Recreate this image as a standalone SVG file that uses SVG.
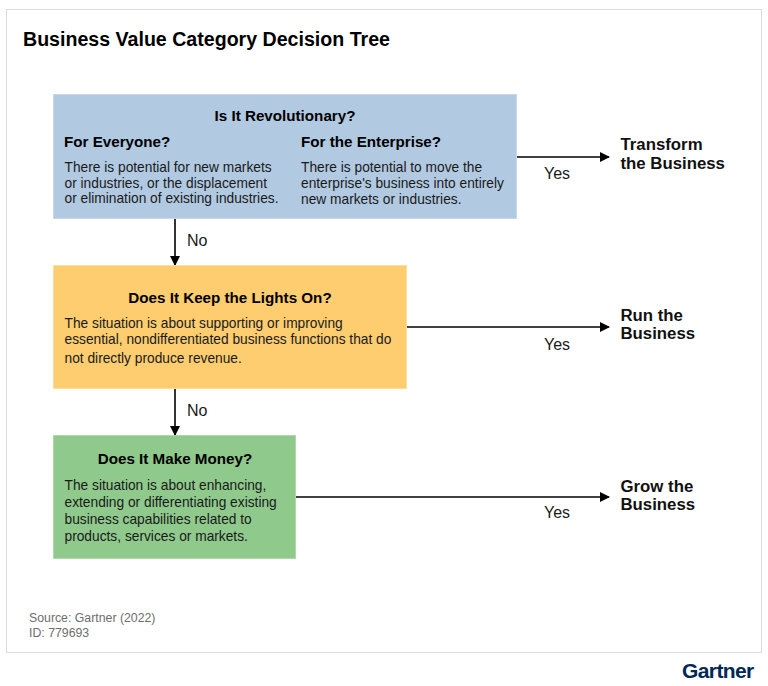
<svg xmlns="http://www.w3.org/2000/svg" width="768" height="686" viewBox="0 0 768 686">
<defs>
<marker id="arrow" markerUnits="userSpaceOnUse" markerWidth="10" markerHeight="10" refX="9" refY="5" orient="auto"><path d="M0 0L10 5L0 10Z" fill="#000"/></marker>
</defs>
<style>
text{font-family:"Liberation Sans",Arial,sans-serif;fill:#1a1a1a}
.b{font-weight:700;font-size:15.2px;fill:#000}
.t{font-size:13.75px}
.r{font-weight:700;font-size:16.8px;fill:#111}
.l{font-size:16px}
.f{font-size:12.3px;fill:#6e6e6e}
.c{stroke:#000;stroke-width:1.6;fill:none;marker-end:url(#arrow)}
</style>
<rect width="768" height="686" fill="#fff"/>
<rect id="frame" x="6.500" y="9.500" width="755" height="643" fill="#fff" stroke="#dcdcdc"/>
<text id="title" x="23" y="46" style="font-weight:700;font-size:19.600px;fill:#000">Business Value Category Decision Tree</text>
<g id="connectors">
<path class="c" d="M517 157H609"/>
<path class="c" d="M407 327H609"/>
<path class="c" d="M296 497H609"/>
<path class="c" d="M175 218V265"/>
<path class="c" d="M175 389V435"/>
</g>
<g id="edge-labels">
<text class="l" x="544" y="179">Yes</text>
<text class="l" x="544" y="350">Yes</text>
<text class="l" x="544" y="518">Yes</text>
<text class="l" x="187" y="246">No</text>
<text class="l" x="187" y="416">No</text>
</g>
<g id="node-revolutionary">
<rect x="53.500" y="94.500" width="463" height="124" fill="#b1c9e1" stroke="#c6d8ea"/>
<text class="b" x="285" y="121" text-anchor="middle">Is It Revolutionary?</text>
<text class="b" x="64" y="147">For Everyone?</text>
<text class="t" x="64.500" y="172">There is potential for new markets</text>
<text class="t" x="64.500" y="188">or industries, or the displacement</text>
<text class="t" x="64.500" y="203">or elimination of existing industries.</text>
<text class="b" x="301" y="147">For the Enterprise?</text>
<text class="t" x="301" y="172">There is potential to move the</text>
<text class="t" x="301" y="188">enterprise's business into entirely</text>
<text class="t" x="301" y="204">new markets or industries.</text>
</g>
<g id="node-lights">
<rect x="53.500" y="265.500" width="353" height="123" fill="#fdcd6f" stroke="#fddc9c"/>
<text class="b" x="230" y="303" text-anchor="middle">Does It Keep the Lights On?</text>
<text class="t" x="64.500" y="328">The situation is about supporting or improving</text>
<text class="t" x="64.500" y="344">essential, nondifferentiated business functions that do</text>
<text class="t" x="64.500" y="363">not directly produce revenue.</text>
</g>
<g id="node-money">
<rect x="53.500" y="435.500" width="242" height="123" fill="#8fc98c" stroke="#add9aa"/>
<text class="b" x="175" y="464" text-anchor="middle">Does It Make Money?</text>
<text class="t" x="64.500" y="490">The situation is about enhancing,</text>
<text class="t" x="64.500" y="507">extending or differentiating existing</text>
<text class="t" x="64.500" y="524">business capabilities related to</text>
<text class="t" x="64.500" y="541">products, services or markets.</text>
</g>
<g id="result-transform"><text class="r" x="620.500" y="150">Transform</text><text class="r" x="620.500" y="169">the Business</text></g>
<g id="result-run"><text class="r" x="620.500" y="321">Run the</text><text class="r" x="620.500" y="339">Business</text></g>
<g id="result-grow"><text class="r" x="620.500" y="492">Grow the</text><text class="r" x="620.500" y="510">Business</text></g>
<g id="footer">
<text class="f" x="29" y="622">Source: Gartner (2022)</text>
<text class="f" x="29" y="637">ID: 779693</text>
</g>
<text id="logo" x="682" y="678" style="font-weight:700;font-size:21px;fill:#002856;letter-spacing:-.6px">Gartner</text>
</svg>
